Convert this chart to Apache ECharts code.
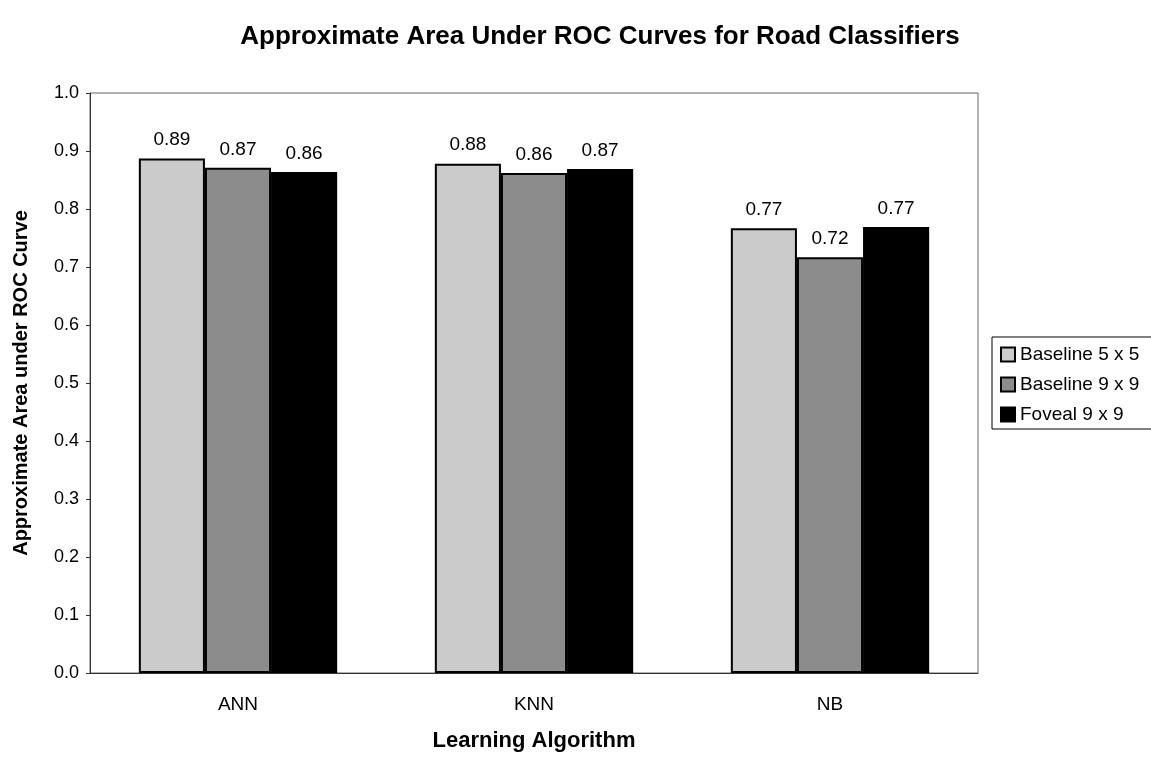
<!DOCTYPE html>
<html><head><meta charset="utf-8">
<script src="https://cdn.jsdelivr.net/npm/echarts@6/dist/echarts.min.js"></script>
<style>html,body{margin:0;padding:0;background:#fff}#c{width:1151px;height:757px}</style>
</head><body><div id="c"></div>
<script>
const categories = ['ANN', 'KNN', 'NB'];
const seriesNames = ['Baseline 5 x 5', 'Baseline 9 x 9', 'Foveal 9 x 9'];
const baseline5 = [0.887, 0.878, 0.767];
const baseline9 = [0.871, 0.862, 0.717];
const foveal9 = [0.864, 0.869, 0.769];
const yTicks = [0.0, 0.1, 0.2, 0.3, 0.4, 0.5, 0.6, 0.7, 0.8, 0.9, 1.0];
const colors = ['#cbcbcb', '#8c8c8c', '#000000'];
const font = 'Liberation Sans, Arial, sans-serif';

const chart = echarts.init(document.getElementById('c'), null, {renderer: 'canvas'});
const values = [baseline5, baseline9, foveal9];
chart.setOption({
  animation: false,
  title: {
    text: 'Approximate Area Under ROC Curves for Road Classifiers',
    left: 595, textAlign: 'center', top: 19,
    textStyle: {fontFamily: font, fontSize: 26, fontWeight: 'bold', color: '#000'}
  },
  legend: {
    orient: 'vertical', left: 992, top: 337,
    data: seriesNames,
    icon: 'rect', itemWidth: 14, itemHeight: 14, itemGap: 11,
    borderColor: '#000', borderWidth: 1, padding: [8, 40, 5, 8],
    textStyle: {fontFamily: font, fontSize: 19, color: '#000'}
  },
  grid: {left: 90, right: 173, top: 93, bottom: 83, show: true, borderColor: '#666', borderWidth: 1},
  xAxis: {
    type: 'category', data: categories,
    axisLine: {lineStyle: {color: '#333', width: 1}},
    axisTick: {show: false},
    axisLabel: {fontFamily: font, fontSize: 19, color: '#000', margin: 22},
    name: 'Learning Algorithm', nameLocation: 'middle', nameGap: 57,
    nameTextStyle: {fontFamily: font, fontSize: 22, fontWeight: 'bold', color: '#000'}
  },
  yAxis: {
    type: 'value', min: yTicks[0], max: yTicks[yTicks.length - 1], interval: 0.1,
    axisLine: {show: true, lineStyle: {color: '#333', width: 1}},
    axisTick: {show: true, inside: false, length: 4, lineStyle: {color: '#333'}},
    splitLine: {show: false},
    axisLabel: {fontFamily: font, fontSize: 18, color: '#000', margin: 11, formatter: v => v.toFixed(1)},
    name: 'Approximate Area under ROC Curve', nameLocation: 'middle', nameGap: 59,
    nameTextStyle: {fontFamily: font, fontSize: 20, fontWeight: 'bold', color: '#000'}
  },
  series: seriesNames.map((n, i) => ({
    name: n, type: 'bar', data: values[i],
    barGap: '0%', barCategoryGap: '33%',
    itemStyle: {color: colors[i], borderColor: '#000', borderWidth: 2},
    label: {show: true, position: 'top', distance: 9, fontFamily: font, fontSize: 19, color: '#000',
      formatter: p => p.value.toFixed(2)}
  }))
});
</script></body></html>
